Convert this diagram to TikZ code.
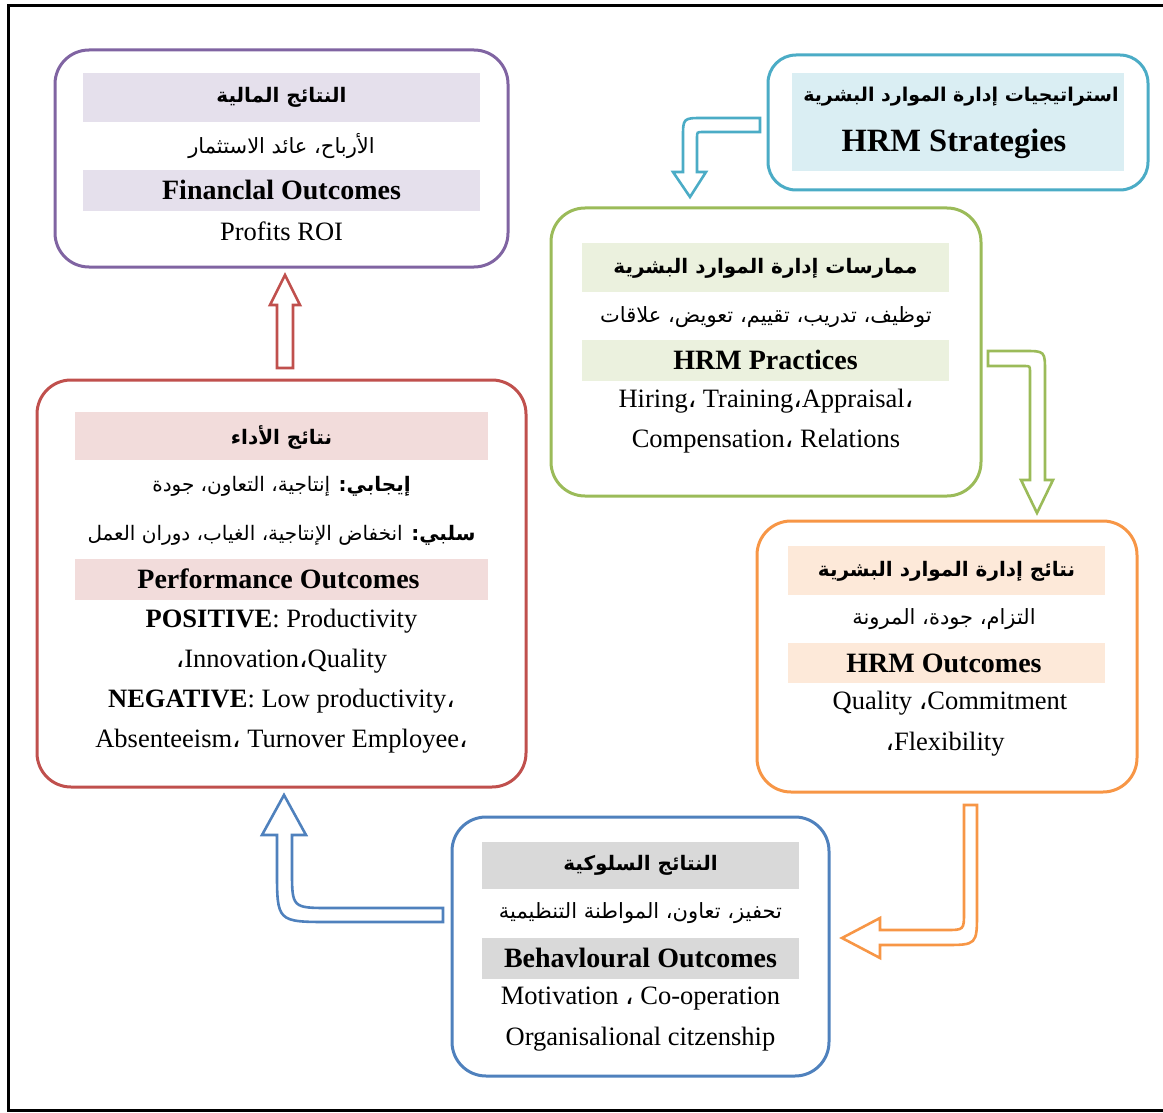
\documentclass[tikz,border=0pt]{standalone}
\usepackage{fontspec}
\setmainfont{Liberation Serif}
\newfontfamily\arabicfont[Script=Arabic]{DejaVu Sans}
\TeXXeTstate=1
\newcommand\ac{{\arabicfont ،}}
\newcommand\ar[1]{{\arabicfont\beginR #1\endR}}
\definecolor{cpur}{HTML}{8064A2}\definecolor{bpur}{HTML}{E5E0EC}
\definecolor{ctea}{HTML}{4BACC6}\definecolor{btea}{HTML}{DAEEF3}
\definecolor{cgre}{HTML}{9BBB59}\definecolor{bgre}{HTML}{EBF1DE}
\definecolor{cora}{HTML}{F79646}\definecolor{bora}{HTML}{FDE9D9}
\definecolor{cblu}{HTML}{4F81BD}\definecolor{bblu}{HTML}{D9D9D9}
\definecolor{cred}{HTML}{C0504D}\definecolor{bred}{HTML}{F2DCDB}
\tikzset{
  box/.style={draw=#1, line width=3pt, rounded corners=34pt, fill=white, inner sep=0pt},
  band/.style={fill=#1, inner sep=0pt, draw=none},
  txt/.style={inner sep=0pt, yshift=-2pt, font=\fontsize{26.5}{30}\selectfont},
  hd/.style={inner sep=0pt, yshift=-1pt, font=\fontsize{28}{32}\selectfont\bfseries},
  atxt/.style={inner sep=0pt, font=\fontsize{21}{26}\selectfont},
  ahd/.style={inner sep=0pt, font=\fontsize{20}{24}\selectfont\bfseries},
  harrow/.style={draw=#1, line width=2.6pt, fill=white, line join=miter},
}
\begin{document}
\begin{tikzpicture}[x=1pt,y=-1pt]
\useasboundingbox (0,0) rectangle (1163,1113);
\draw[line width=3pt] (8.5,5.5) rectangle (1172,1110.5);

% ---------- Financial ----------
\node[box=cpur, minimum width=453pt, minimum height=217pt] (fin) at (281.5,158.5) {};
\node[band=bpur, minimum width=397pt, minimum height=49pt] (finb1) at (281.5,97.5) {};
\node[ahd] (fint1) at (281.5,97.5) {\ar{النتائج المالية}};
\node[atxt] (fint2) at (281.5,146) {\ar{الأرباح، عائد الاستثمار}};
\node[band=bpur, minimum width=397pt, minimum height=41pt] (finb2) at (281.5,190.5) {};
\node[hd] (fint3) at (281.5,189) {Financlal Outcomes};
\node[txt] (fint4) at (281.5,229) {Profits ROI};

% ---------- Strategies ----------
\node[box=ctea, rounded corners=28pt, minimum width=380pt, minimum height=135pt] (str) at (958,122.5) {};
\node[band=btea, minimum width=332pt, minimum height=98pt] (strb) at (958,122) {};
\node[ahd, font=\fontsize{19}{24}\selectfont\bfseries] (strt1) at (961,97) {\ar{استراتيجيات إدارة الموارد البشرية}};
\node[inner sep=0pt, font=\fontsize{32.5}{36}\selectfont\bfseries] (strt2) at (954,144) {HRM Strategies};

% ---------- Practices ----------
\node[box=cgre, minimum width=430pt, minimum height=288pt] (pra) at (766,352) {};
\node[band=bgre, minimum width=367pt, minimum height=49pt] (prab1) at (765.5,267.5) {};
\node[ahd] (prat1) at (765.5,268) {\ar{ممارسات إدارة الموارد البشرية}};
\node[atxt] (prat2) at (766,317) {\ar{توظيف، تدريب، تقييم، تعويض، علاقات}};
\node[band=bgre, minimum width=367pt, minimum height=41pt] (prab2) at (765.5,360.5) {};
\node[hd] (prat3) at (765.5,359) {HRM Practices};
\node[txt] (prat4) at (766,399) {Hiring\ac{} Training\ac{}Appraisal\ac{}};
\node[txt] (prat5) at (766,439) {Compensation\ac{} Relations};

% ---------- HRM Outcomes ----------
\node[box=cora, minimum width=380pt, minimum height=271pt] (out) at (947,656.5) {};
\node[band=bora, minimum width=317pt, minimum height=49pt] (outb1) at (946.5,570.5) {};
\node[ahd] (outt1) at (946.5,571) {\ar{نتائج إدارة الموارد البشرية}};
\node[atxt] (outt2) at (944,619) {\ar{التزام، جودة، المرونة}};
\node[band=bora, minimum width=317pt, minimum height=40pt] (outb2) at (946.5,663) {};
\node[hd] (outt3) at (944,662) {HRM Outcomes};
\node[txt] (outt4) at (950,701) {Quality \ac{}Commitment};
\node[txt] (outt5) at (945,742) {\ac{}Flexibility};

% ---------- Behavioural ----------
\node[box=cblu, minimum width=377pt, minimum height=259pt] (beh) at (640.5,946.5) {};
\node[band=bblu, minimum width=317pt, minimum height=47pt] (behb1) at (640.5,865.5) {};
\node[ahd] (beht1) at (640.5,865) {\ar{النتائج السلوكية}};
\node[atxt] (beht2) at (640.5,913) {\ar{تحفيز، تعاون، المواطنة التنظيمية}};
\node[band=bblu, minimum width=317pt, minimum height=41pt] (behb2) at (640.5,958.5) {};
\node[hd] (beht3) at (640.5,957) {Behavloural Outcomes};
\node[txt] (beht4) at (640.5,997) {Motivation \ac{} Co-operation};
\node[txt] (beht5) at (640.5,1037) {Organisalional citzenship};

% ---------- Performance ----------
\node[box=cred, minimum width=489pt, minimum height=407pt] (per) at (281.5,583.5) {};
\node[band=bred, minimum width=413pt, minimum height=48pt] (perb1) at (281.5,436) {};
\node[ahd] (pert1) at (281.5,437) {\ar{نتائج الأداء}};
\node[atxt, font=\fontsize{20}{26}\selectfont] (pert2) at (281.5,486) {\ar{{\bfseries إيجابي:} إنتاجية، التعاون، جودة}};
\node[atxt, font=\fontsize{20}{26}\selectfont] (pert3) at (281.5,535) {\ar{{\bfseries سلبي:} انخفاض الإنتاجية، الغياب، دوران العمل}};
\node[band=bred, minimum width=413pt, minimum height=41pt] (perb2) at (281.5,579.5) {};
\node[hd] (pert4) at (278.5,578) {Performance Outcomes};
\node[txt] (pert5) at (281.5,619) {\textbf{POSITIVE}: Productivity};
\node[txt] (pert6) at (281.5,659) {\ac{}Innovation\ac{}Quality};
\node[txt] (pert7) at (281.5,699) {\textbf{NEGATIVE}: Low productivity\ac{}};
\node[txt] (pert8) at (281.5,739) {Absenteeism\ac{} Turnover Employee\ac{}};

% ---------- hollow arrows ----------
% performance -> financial
\draw[harrow=cred] (277,368) -- (277,305) -- (270,305) -- (285,275) -- (300,305) -- (293,305) -- (293,368) -- cycle;
% strategies -> practices
\draw[harrow=ctea] (760,118) -- (703,118) .. controls (683,118) .. (683,138) -- (683,172) -- (673,172) -- (690,197) -- (706,172) -- (697,172) -- (697,138) .. controls (697,132) .. (703,132) -- (760,132) -- cycle;
% practices -> HRM outcomes
\draw[harrow=cgre] (988,351) -- (1024,351) .. controls (1045,351) .. (1045,372) -- (1045,480) -- (1053,480) -- (1037,513) -- (1021,480) -- (1030,480) -- (1030,372) .. controls (1030,366) .. (1024,366) -- (988,366) -- cycle;
% HRM outcomes -> behavioural
\draw[harrow=cora] (964,805) -- (977,805) -- (977,912) .. controls (977,945) .. (944,945) -- (880,945) -- (880,958) -- (842,938) -- (880,918) -- (880,930) -- (946,930) .. controls (964,930) .. (964,912) -- cycle;
% behavioural -> performance
\draw[harrow=cblu] (443,908) -- (330,908) .. controls (292,908) .. (292,870) -- (292,835) -- (306,835) -- (284,795) -- (262,835) -- (277,835) -- (277,870) .. controls (277,922) .. (330,922) -- (443,922) -- cycle;
\end{tikzpicture}
\end{document}
